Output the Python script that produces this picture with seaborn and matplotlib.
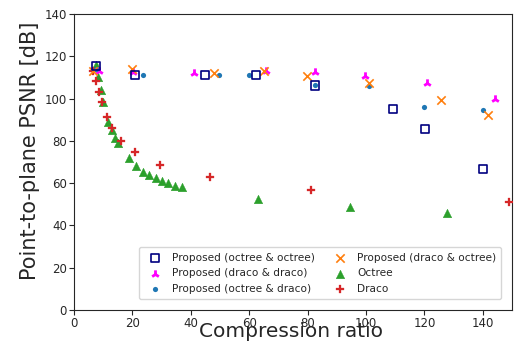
import matplotlib
matplotlib.use("Agg")
import matplotlib.pyplot as plt
import seaborn as sns
import numpy as np

# --- data ---
oo_x = [7.5, 21.0, 45.0, 62.3, 82.6, 109.2, 120.3, 140.2]
oo_y = [115.5, 111.0, 111.0, 111.0, 106.2, 95.0, 85.8, 66.5]

dd_x = [8.7, 20.1, 41.2, 65.8, 82.5, 99.7, 121.0, 144.3]
dd_y = [113.0, 112.8, 112.2, 113.0, 112.8, 110.8, 107.3, 99.7]

od_x = [7.5, 23.5, 49.6, 60.0, 82.5, 101.0, 119.7, 139.9]
od_y = [114.0, 111.0, 111.0, 111.0, 106.2, 105.8, 96.2, 94.8]

do_x = [6.6, 19.9, 48.0, 65.1, 79.9, 101.0, 125.7, 141.8]
do_y = [113.0, 113.9, 112.3, 113.0, 110.7, 107.2, 99.3, 92.2]

oct_x = [7.5, 8.3, 9.1, 9.9, 11.7, 12.9, 14.0, 15.0, 18.9, 21.4, 23.7, 25.8,
         28.1, 30.1, 32.3, 34.6, 36.9, 63.1, 94.5, 127.8]
oct_y = [115.9, 110.3, 104.1, 98.5, 89.1, 85.1, 81.2, 78.8, 71.7, 68.1, 65.4,
         63.9, 62.3, 61.2, 60.0, 58.8, 58.0, 52.4, 48.6, 46.0]

dra_x = [6.6, 7.5, 8.5, 9.7, 11.2, 13.1, 16.1, 21.0, 29.4, 46.5, 81.3, 149.1]
dra_y = [113.2, 108.3, 103.0, 98.2, 91.4, 85.9, 80.0, 74.5, 68.6, 62.8, 56.9, 51.2]

x_ticks = [0, 20, 40, 60, 80, 100, 120, 140]
y_ticks = [0, 20, 40, 60, 80, 100, 120, 140]

sns.set_style("ticks")
plt.rcParams['font.family'] = ['DejaVu Sans']

fig = plt.figure(figsize=(5.15, 3.46), dpi=100)
ax = fig.add_axes([74/515, 1 - 310/346, (512 - 74)/515, (310 - 14)/346])

sns.scatterplot(x=oo_x, y=oo_y, ax=ax, marker='s', s=34, color='navy',
                facecolor='none', edgecolor='navy', linewidth=1.2,
                label='Proposed (octree & octree)', zorder=5)
sns.scatterplot(x=dd_x, y=dd_y, ax=ax, marker='2', s=36, color='magenta',
                linewidth=2.0, label='Proposed (draco & draco)', zorder=4)
sns.scatterplot(x=od_x, y=od_y, ax=ax, marker='o', s=14, color='tab:blue',
                edgecolor='tab:blue', linewidth=0,
                label='Proposed (octree & draco)', zorder=4)
sns.scatterplot(x=do_x, y=do_y, ax=ax, marker='x', s=36, color='tab:orange',
                linewidth=1.2, label='Proposed (draco & octree)', zorder=4)
sns.scatterplot(x=oct_x, y=oct_y, ax=ax, marker='^', s=38, color='tab:green',
                edgecolor='tab:green', linewidth=0.3, label='Octree', zorder=3)
sns.scatterplot(x=dra_x, y=dra_y, ax=ax, marker='P', s=34, color='tab:red',
                edgecolor='tab:red', linewidth=0.2, label='Draco', zorder=3)

ax.set_xlim(0, 150)
ax.set_ylim(0, 140)
ax.set_xticks(x_ticks)
ax.set_yticks(y_ticks)
ax.tick_params(labelsize=8.5, length=3.5, width=0.8, pad=1.5)
for sp in ax.spines.values():
    sp.set_visible(True)
    sp.set_linewidth(0.8)
ax.set_xlabel('Compression ratio', fontsize=14.5)
ax.set_ylabel('Point-to-plane PSNR [dB]', fontsize=15)
ax.xaxis.set_label_coords(0.495, -0.0912, transform=ax.transAxes)
ax.xaxis.label.set_va('baseline')
ax.yaxis.set_label_coords(-0.078, 0.537, transform=ax.transAxes)

ax.legend(loc='lower right', ncol=2, fontsize=7.6, frameon=True,
          handletextpad=0.6, columnspacing=1.4, labelspacing=0.55,
          borderaxespad=1.0, framealpha=0.8, borderpad=0.5)

fig.savefig('out.png', dpi=100)
